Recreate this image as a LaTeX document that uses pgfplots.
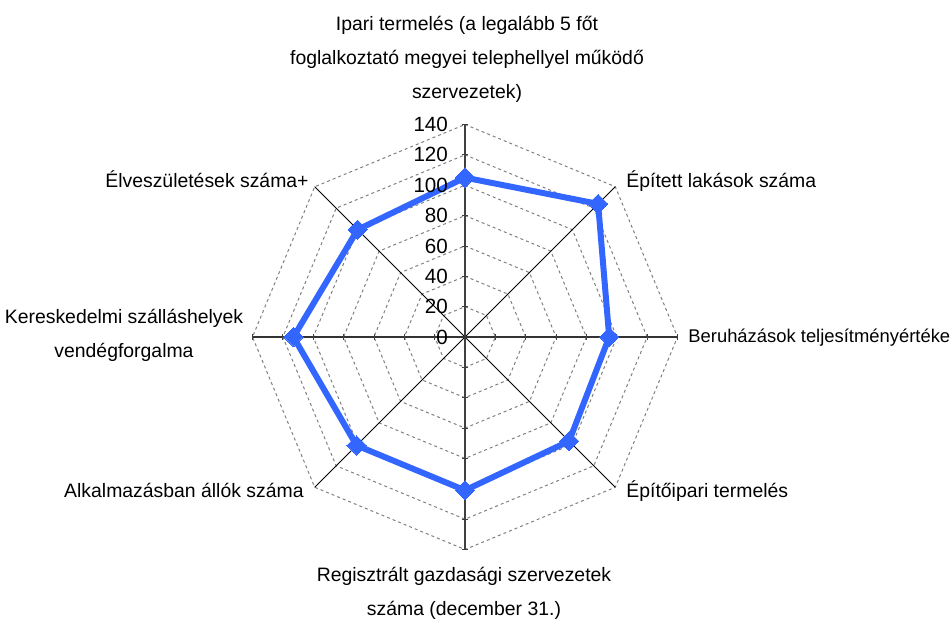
\documentclass[border=0pt]{standalone}
\usepackage{fontspec}
\setmainfont{Liberation Sans}
\usepackage{pgfplots}
\pgfplotsset{compat=1.18}
\usepgfplotslibrary{polar}

\definecolor{serieblue}{RGB}{51,102,255}
\definecolor{gridgray}{RGB}{128,128,128}

\begin{document}
\begin{tikzpicture}[font=\fontsize{9.7pt}{17pt}\selectfont]
  \begin{axis}[
    anchor=origin, at={(0pt,0pt)},
    x=0.759pt, y=0.759pt,
    xmin=-140, xmax=140, ymin=-140, ymax=140,
    hide axis, clip=false,
    data cs=polar,
    ]
    % octagonal grid, 20 to 140
    \pgfplotsinvokeforeach{20,40,60,80,100,120,140}{
      \addplot[gridgray, line width=0.5pt, dash pattern=on 1.5pt off 1.5pt, mark=none]
        coordinates {(90,#1) (45,#1) (0,#1) (-45,#1) (-90,#1) (-135,#1) (180,#1) (135,#1) (90,#1)};
    }
    % diagonal spokes
    \addplot[black, line width=0.45pt, mark=none] coordinates {(45,140) (45,0) (-135,140)};
    \addplot[black, line width=0.45pt, mark=none] coordinates {(135,140) (135,0) (-45,140)};
    % main spokes
    \addplot[black!75, line width=0.8pt, mark=none] coordinates {(90,140) (90,0) (-90,140)};
    \addplot[black!80, line width=0.8pt, mark=none] coordinates {(180,140) (180,0) (0,140)};
    % small tick marks on the main spokes
    \addplot[only marks, black!75, mark=-, mark size=1.6pt] coordinates {
      (90,20) (90,40) (90,60) (90,80) (90,100) (90,120) (90,140)
      (-90,20) (-90,40) (-90,60) (-90,80) (-90,100) (-90,120) (-90,140)};
    \addplot[only marks, black!75, mark=|, mark size=1.6pt] coordinates {
      (0,20) (0,40) (0,60) (0,80) (0,100) (0,120) (0,140)
      (180,20) (180,40) (180,60) (180,80) (180,100) (180,120) (180,140)};
    % data
    \addplot[serieblue, line width=3pt, mark=square*, mark size=3.4pt,
      mark options={rotate=45, solid, line width=0pt}]
      coordinates {
        (90,105) (45,124) (0,95) (-45,97) (-90,101) (-135,101) (180,113) (135,100) (90,105)
      };
    % radial tick labels
    \pgfplotsinvokeforeach{0,20,40,60,80,100,120,140}{
      \node[anchor=east, inner sep=0pt, font=\fontsize{10.3pt}{12pt}\selectfont] at (axis cs:-11,#1) {#1};
    }
    \coordinate (c) at (axis cs:0,0);
  \end{axis}

  % multi-line nodes: base anchor sits on the last line
  \node[anchor=base, align=center, inner sep=0pt] at ([shift={(1pt,119.5pt)}]c)
    {Ipari termelés (a legalább 5 főt\\foglalkoztató megyei telephellyel működő\\szervezetek)};
  \node[anchor=base west, inner sep=0pt] at ([shift={(80.5pt,75pt)}]c) {Épített lakások száma};
  \node[anchor=base west, inner sep=0pt, font=\fontsize{9.2pt}{17pt}\selectfont]
    at ([shift={(111.5pt,-2.5pt)}]c) {Beruházások teljesítményértéke};
  \node[anchor=base west, inner sep=0pt] at ([shift={(80.5pt,-80pt)}]c) {Építőipari termelés};
  \node[anchor=base, align=center, inner sep=0pt] at ([shift={(-0.5pt,-139pt)}]c)
    {Regisztrált gazdasági szervezetek\\száma (december 31.)};
  \node[anchor=base east, inner sep=0pt] at ([shift={(-80.5pt,-80pt)}]c) {Alkalmazásban állók száma};
  \node[anchor=base, align=center, inner sep=0pt] at ([shift={(-170.5pt,-10pt)}]c)
    {Kereskedelmi szálláshelyek\\vendégforgalma};
  \node[anchor=base east, inner sep=0pt] at ([shift={(-78pt,75pt)}]c) {Élveszületések száma+};

  \pgfresetboundingbox
  \path ([shift={(-232.5pt,-142.5pt)}]c) rectangle ([shift={(243pt,168.5pt)}]c);
\end{tikzpicture}
\end{document}
